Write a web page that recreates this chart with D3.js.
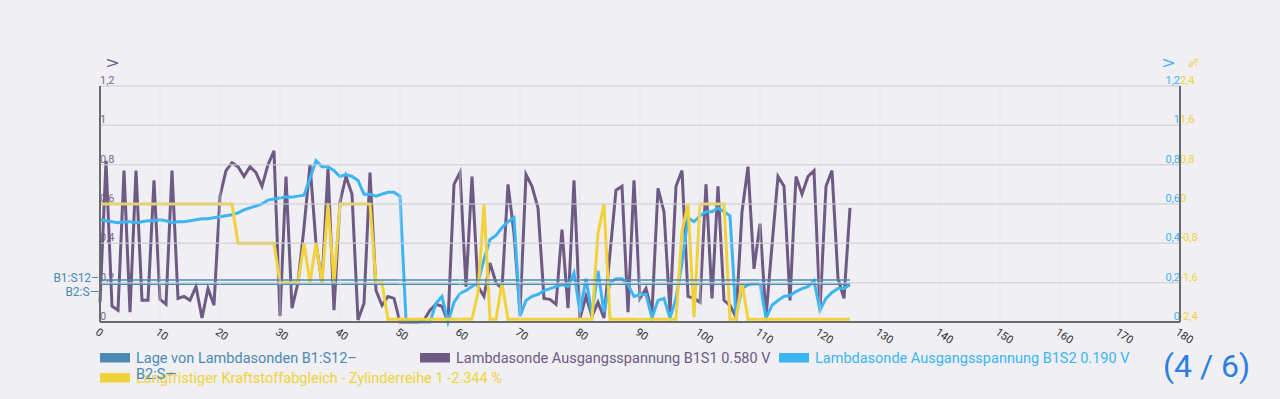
<!DOCTYPE html>
<html>
<head>
<meta charset="utf-8">
<script src="https://cdn.jsdelivr.net/npm/d3@7"></script>
<style>
  body { margin: 0; background: #efeff4; }
  svg { display: block; font-family: Roboto, sans-serif; }
</style>
</head>
<body>
<svg id="chart" width="1280" height="399"></svg>
<script>
// Lambdasonde Ausgangsspannung B1S1 (V), one sample per x step
const b1s1 = [0.10, 0.82, 0.08, 0.06, 0.77, 0.05, 0.77, 0.11, 0.11, 0.72,
  0.115, 0.09, 0.77, 0.12, 0.13, 0.11, 0.18, 0.02, 0.17, 0.085,
  0.64, 0.77, 0.81, 0.79, 0.74, 0.79, 0.76, 0.69, 0.80, 0.87,
  0.03, 0.74, 0.07, 0.20, 0.48, 0.80, 0.40, 0.20, 0.78, 0.06,
  0.61, 0.74, 0.65, 0.01, 0.095, 0.76, 0.16, 0.085, 0.13, 0.12,
  0.0, 0.0, 0.0, 0.0, 0.01, 0.06, 0.09, 0.08, 0.0, 0.70,
  0.76, 0.18, 0.74, 0.18, 0.13, 0.30, 0.20, 0.17, 0.70, 0.45,
  0.05, 0.75, 0.69, 0.58, 0.12, 0.115, 0.09, 0.47, 0.07, 0.72,
  0.02, 0.13, 0.03, 0.10, 0.02, 0.35, 0.67, 0.69, 0.05, 0.72,
  0.12, 0.17, 0.05, 0.68, 0.56, 0.05, 0.69, 0.77, 0.13, 0.12,
  0.10, 0.70, 0.12, 0.69, 0.11, 0.085, 0.025, 0.56, 0.79, 0.27,
  0.50, 0.025, 0.39, 0.74, 0.69, 0.11, 0.74, 0.65, 0.74, 0.77,
  0.06, 0.69, 0.77, 0.22, 0.12, 0.58];

// Lambdasonde Ausgangsspannung B1S2 (V)
const b1s2 = [0.52, 0.515, 0.51, 0.505, 0.51, 0.51, 0.505, 0.51, 0.515, 0.515,
  0.52, 0.515, 0.505, 0.51, 0.51, 0.515, 0.52, 0.525, 0.525, 0.53,
  0.535, 0.54, 0.545, 0.555, 0.57, 0.58, 0.59, 0.60, 0.62, 0.625,
  0.63, 0.635, 0.635, 0.64, 0.645, 0.73, 0.82, 0.79, 0.79, 0.77,
  0.74, 0.75, 0.74, 0.72, 0.65, 0.65, 0.64, 0.65, 0.66, 0.66,
  0.64, 0.01, 0.0, 0.0, 0.0, 0.0, 0.095, 0.13, 0.0, 0.10,
  0.145, 0.16, 0.18, 0.20, 0.32, 0.42, 0.44, 0.48, 0.51, 0.53,
  0.03, 0.11, 0.13, 0.14, 0.16, 0.17, 0.18, 0.19, 0.18, 0.25,
  0.05, 0.22, 0.04, 0.26, 0.05, 0.20, 0.22, 0.22, 0.19, 0.13,
  0.14, 0.14, 0.02, 0.11, 0.12, 0.02, 0.12, 0.30, 0.53, 0.51,
  0.54, 0.56, 0.56, 0.58, 0.56, 0.54, 0.03, 0.17, 0.19, 0.195,
  0.195, 0.02, 0.085, 0.11, 0.13, 0.135, 0.155, 0.17, 0.18, 0.21,
  0.06, 0.12, 0.15, 0.17, 0.17, 0.19];

// Langfristiger Kraftstoffabgleich - Zylinderreihe 1 (%)
const ltft = [0, 0, 0, 0, 0, 0, 0, 0, 0, 0,
  0, 0, 0, 0, 0, 0, 0, 0, 0, 0,
  0, 0, 0, -0.8, -0.8, -0.8, -0.8, -0.8, -0.8, -0.8,
  -1.6, -1.6, -1.6, -1.6, -0.8, -1.6, -0.8, -1.6, 0, -1.6,
  0, 0, 0, 0, 0, 0, -1.6, -1.6, -2.344, -2.344,
  -2.344, -2.344, -2.344, -2.344, -2.344, -2.344, -2.344, -2.344, -2.344, -2.344,
  -2.344, -2.344, -2.344, -1.8, 0, -2.344, -2.344, -1.6, -2.344, -2.344,
  -2.344, -2.344, -2.344, -2.344, -2.344, -2.344, -2.344, -2.344, -2.344, -2.344,
  -2.344, -2.344, -2.344, -0.6, 0, -2.344, -2.344, -2.344, -2.344, -2.344,
  -2.344, -2.344, -2.344, -2.344, -2.344, -2.344, -2.344, -0.56, 0, -2.3,
  0, 0, 0, 0, 0, -2.344, -2.344, -1.6, -2.344, -2.344,
  -2.344, -2.344, -2.344, -2.344, -2.344, -2.344, -2.344, -2.344, -2.344, -2.344,
  -2.344, -2.344, -2.344, -2.344, -2.344, -2.344];

// Lage von Lambdasonden (two constant traces)
const lageX = [0, 125];
const lageB1 = [0.213, 0.213];
const lageB2 = [0.192, 0.192];
const lageCategories = ["B1:S12–", "B2:S—"];

const xTicks = d3.range(0, 181, 10);
const voltTicks = [0, 0.2, 0.4, 0.6, 0.8, 1, 1.2];
const pctTicks = [-2.4, -1.6, -0.8, 0, 0.8, 1.6, 2.4];

const legendLabels = [
  "Lage von Lambdasonden B1:S12–",
  "Lambdasonde Ausgangsspannung B1S1 0.580 V",
  "Lambdasonde Ausgangsspannung B1S2 0.190 V",
  "Langfristiger Kraftstoffabgleich - Zylinderreihe 1 -2.344 %"
];
const pageLabel = "(4 / 6)";

const col = { lage: "#4a8ab2", b1s1: "#6e5a84", b1s2: "#3bb5f3", ltft: "#f2d23a" };
const legendColors = [col.lage, col.b1s1, col.b1s2, col.ltft];

const svg = d3.select("#chart");
const margin = { left: 100, right: 100, top: 86, bottom: 77 };
const W = 1280, H = 399;

const x = d3.scaleLinear().domain([0, 180]).range([margin.left, W - margin.right]);
const yV = d3.scaleLinear().domain([0, 1.2]).range([H - margin.bottom, margin.top]);
const yP = d3.scaleLinear().domain([-2.4, 2.4]).range([H - margin.bottom, margin.top]);
const yCat = d3.scalePoint().domain(lageCategories).range([278, 292]);

const fmt = d => String(d).replace(".", ",");

// y labels (under the data)
const leftLab = svg.append("g").attr("font-size", 11).attr("fill", "#7a6b8e");
leftLab.selectAll("text").data(voltTicks).join("text")
  .attr("x", x(0)).attr("y", d => yV(d) - 2).text(fmt);

const rightV = svg.append("g").attr("font-size", 11).attr("fill", col.b1s2).attr("text-anchor", "end");
rightV.selectAll("text").data(voltTicks).join("text")
  .attr("x", x(180)).attr("y", d => yV(d) - 2).text(fmt);

const rightP = svg.append("g").attr("font-size", 11).attr("fill", col.ltft);
rightP.selectAll("text").data(pctTicks).join("text")
  .attr("x", x(180)).attr("y", d => yP(d) - 2).text(fmt);

// units
svg.append("text").attr("transform", `translate(113,63) rotate(-90)`)
  .attr("text-anchor", "middle").attr("dy", "0.35em").attr("font-size", 14)
  .attr("fill", "#6e5a84").text("V");
svg.append("text").attr("transform", `translate(1169,63) rotate(-90)`)
  .attr("text-anchor", "middle").attr("dy", "0.35em").attr("font-size", 14)
  .attr("fill", col.b1s2).text("V");
svg.append("text").attr("transform", `translate(1193,63) rotate(-90)`)
  .attr("text-anchor", "middle").attr("dy", "0.35em").attr("font-size", 13)
  .attr("fill", col.ltft).text("%");

// lines
const idx = (d, i) => x(i);
const plot = svg.append("g");
plot.append("path").datum(b1s1)
  .attr("fill", "none").attr("stroke", col.b1s1).attr("stroke-width", 3)
  .attr("d", d3.line().x(idx).y(d => yV(d)));
plot.append("path").datum(b1s2)
  .attr("fill", "none").attr("stroke", col.b1s2).attr("stroke-width", 3)
  .attr("d", d3.line().x(idx).y(d => yV(d)));
plot.append("path").datum(ltft)
  .attr("fill", "none").attr("stroke", col.ltft).attr("stroke-width", 3)
  .attr("d", d3.line().x(idx).y(d => yP(d)));
[lageB1, lageB2].forEach(arr => {
  plot.append("path").datum(arr)
    .attr("fill", "none").attr("stroke", col.lage).attr("stroke-width", 1.5)
    .attr("d", d3.line().x((d, i) => x(lageX[i])).y(d => yV(d)));
});

// grid on top, semi transparent
const grid = svg.append("g");
grid.selectAll(".h").data(voltTicks.slice(1)).join("line")
  .attr("x1", x(0)).attr("x2", x(180)).attr("y1", d => yV(d)).attr("y2", d => yV(d))
  .attr("stroke", "#cfcfd3").attr("stroke-width", 1.5).attr("opacity", 0.75);
grid.selectAll(".v").data(xTicks.slice(1, -1)).join("line")
  .attr("y1", yV(0)).attr("y2", yV(1.2)).attr("x1", d => x(d)).attr("x2", d => x(d))
  .attr("stroke", "#e3e3e7").attr("stroke-width", 1).attr("opacity", 0.6);

// axis frame
const frame = svg.append("g").attr("stroke", "#6b6b6b").attr("stroke-width", 2);
frame.append("line").attr("x1", x(0)).attr("x2", x(0)).attr("y1", yV(0)).attr("y2", yV(1.2));
frame.append("line").attr("x1", x(180)).attr("x2", x(180)).attr("y1", yV(0)).attr("y2", yV(1.2));
frame.append("line").attr("x1", x(0)).attr("x2", x(180)).attr("y1", yV(0)).attr("y2", yV(0));

// x axis labels
const xAxis = d3.axisBottom(x).tickValues(xTicks).tickSize(0).tickFormat(d3.format("d"));
const gx = svg.append("g").attr("transform", `translate(0,${yV(0)})`).call(xAxis);
gx.select(".domain").remove();
gx.selectAll("text")
  .attr("font-size", 11).attr("fill", "#2e2e2e").attr("font-family", "Roboto, sans-serif")
  .attr("text-anchor", "start").attr("x", 2).attr("y", 5).attr("dy", "0.71em")
  .attr("transform", "rotate(35)");

// category axis for Lage
const gc = svg.append("g").attr("transform", `translate(${x(0) - 1},0)`)
  .call(d3.axisLeft(yCat).tickSize(0).tickPadding(0));
gc.select(".domain").remove();
gc.selectAll("text").attr("font-size", 12).attr("fill", col.lage).attr("font-family", "Roboto, sans-serif");

// legend
const legendPos = [[100, 353], [420, 353], [779, 353], [100, 373]];
const legend = svg.append("g");
const li = legend.selectAll("g").data(legendLabels).join("g")
  .attr("transform", (d, i) => `translate(${legendPos[i][0]},${legendPos[i][1]})`);
li.append("rect").attr("width", 30).attr("height", 9.5).attr("fill", (d, i) => legendColors[i]);
li.append("text").attr("x", 36).attr("y", 5).attr("dy", "0.35em")
  .attr("font-size", 14.5).attr("fill", (d, i) => legendColors[i]).text(d => d);
legend.append("text").attr("x", 136).attr("y", 379).attr("font-size", 14.5)
  .attr("fill", col.lage).text("B2:S—");

svg.append("text").attr("x", 1163).attr("y", 377).attr("font-size", 32)
  .attr("fill", "#2b7fe0").text(pageLabel);
</script>
</body>
</html>
